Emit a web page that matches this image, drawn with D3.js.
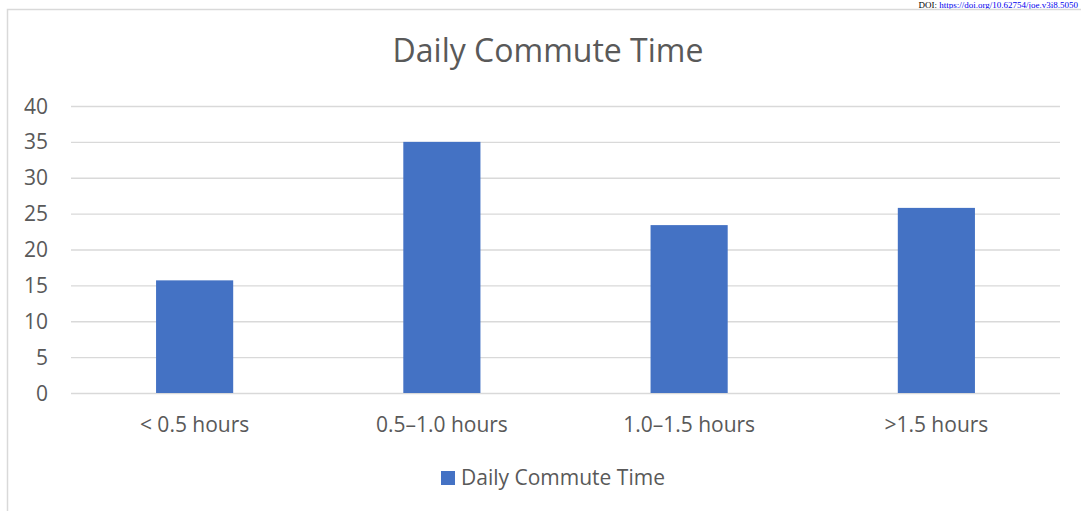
<!DOCTYPE html>
<html>
<head>
<meta charset="utf-8">
<script src="https://cdn.jsdelivr.net/npm/d3@7"></script>
<style>
  body { margin: 0; background: #fff; }
  svg { display: block; }
  text { font-family: "Open Sans", sans-serif; }
</style>
</head>
<body>
<svg id="chart"></svg>
<script>
(function(){
    "use strict";

    var categories = ["< 0.5 hours", "0.5\u20131.0 hours", "1.0\u20131.5 hours", ">1.5 hours"];
    var values = [15.7, 35.0, 23.4, 25.8];
    var yTicks = [0, 5, 10, 15, 20, 25, 30, 35, 40];
    var seriesName = "Daily Commute Time";
    var title = "Daily Commute Time";

    var width = 1081,
        height = 511,
        left = 71,
        right = 1060,
        top = 106,
        bottom = 393,
        barColor = "#4472c4";

    var svg = d3.select("svg#chart")
        .attr("width", width)
        .attr("height", height);

    // page text above the chart frame
    var doi = svg.append("text")
        .attr("x", 1078)
        .attr("y", 8)
        .attr("text-anchor", "end")
        .style("font-family", "'Liberation Serif', serif")
        .style("font-size", "9px");
    doi.append("tspan").attr("fill", "#000").text("DOI: ");
    doi.append("tspan").attr("fill", "#0000ee")
        .style("text-decoration", "underline")
        .text("https://doi.org/10.62754/joe.v3i8.5050");

    // chart frame
    svg.append("path")
        .attr("d", "M7.5," + height + "V9.5H" + width)
        .attr("fill", "none")
        .attr("stroke", "#d9d9d9")
        .attr("stroke-width", 1.5);

    var x = d3.scaleBand()
        .domain(categories)
        .range([left, right])
        .padding(0);

    var y = d3.scaleLinear()
        .domain([0, 40])
        .range([bottom, top]);

    // gridlines
    svg.append("g")
        .selectAll("line")
        .data(yTicks)
        .enter().append("line")
        .attr("x1", left)
        .attr("x2", right)
        .attr("y1", function(d) { return y(d) + 0.5; })
        .attr("y2", function(d) { return y(d) + 0.5; })
        .attr("stroke", "#d9d9d9")
        .attr("stroke-width", 1.3);

    // y tick labels
    svg.append("g")
        .selectAll("text")
        .data(yTicks)
        .enter().append("text")
        .attr("x", 48)
        .attr("y", function(d) { return y(d); })
        .attr("dy", "0.36em")
        .attr("text-anchor", "end")
        .attr("fill", "#595959")
        .style("font-size", "21px")
        .text(function(d) { return d; });

    // bars
    var barW = x.bandwidth() * 0.312;
    svg.append("g")
        .selectAll("rect")
        .data(values)
        .enter().append("rect")
        .attr("x", function(d, i) { return x(categories[i]) + x.bandwidth() / 2 - barW / 2; })
        .attr("y", function(d) { return y(d); })
        .attr("width", barW)
        .attr("height", function(d) { return y(0) - y(d); })
        .attr("fill", barColor);

    // category labels
    svg.append("g")
        .selectAll("text")
        .data(categories)
        .enter().append("text")
        .attr("x", function(d) { return x(d) + x.bandwidth() / 2; })
        .attr("y", 432)
        .attr("text-anchor", "middle")
        .attr("fill", "#595959")
        .style("font-size", "21px")
        .text(function(d) { return d; });

    // title
    svg.append("text")
        .attr("x", 548)
        .attr("y", 62)
        .attr("text-anchor", "middle")
        .attr("fill", "#595959")
        .style("font-size", "32px")
        .text(title);

    // legend
    var legend = svg.append("g").attr("transform", "translate(441,471)");
    legend.append("rect")
        .attr("width", 14)
        .attr("height", 14)
        .attr("fill", barColor);
    legend.append("text")
        .attr("x", 20)
        .attr("y", 14)
        .attr("fill", "#595959")
        .style("font-size", "21px")
        .text(seriesName);
})();
</script>
</body>
</html>
